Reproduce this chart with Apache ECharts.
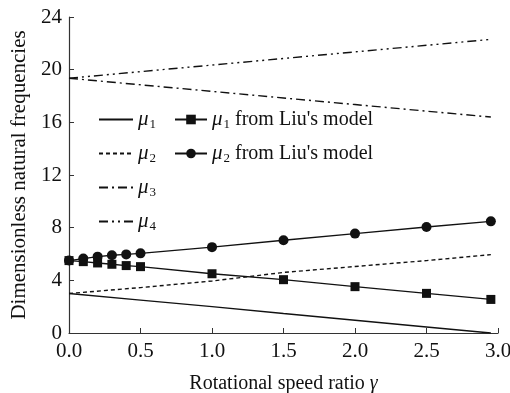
<!DOCTYPE html>
<html>
<head>
<meta charset="utf-8">
<script src="https://cdn.jsdelivr.net/npm/echarts@6/dist/echarts.min.js"></script>
<style>
  html, body { margin: 0; padding: 0; background: #fff; }
  #chart { width: 510px; height: 393px; }
</style>
</head>
<body>
<div id="chart"></div>
<script>
// theory curves
const gamma = [0, 0.5, 1.0, 1.5, 2.0, 2.5, 2.95];
const mu1 = [3.0, 2.5, 2.0, 1.48, 0.97, 0.46, 0];
const mu2 = [3.0, 3.45, 3.95, 4.6, 5.05, 5.5, 5.95];
const mu3 = [19.35, 18.85, 18.35, 17.85, 17.35, 16.85, 16.4];
const mu4 = [19.35, 19.85, 20.35, 20.85, 21.35, 21.85, 22.3];
// Liu's model points
const liuX = [0, 0.1, 0.2, 0.3, 0.4, 0.5, 1.0, 1.5, 2.0, 2.5, 2.95];
const liu1 = [5.5, 5.42, 5.32, 5.22, 5.12, 5.04, 4.5, 4.05, 3.52, 3.01, 2.55];
const liu2 = [5.5, 5.65, 5.8, 5.9, 5.97, 6.05, 6.52, 7.04, 7.55, 8.05, 8.48];

const pair = (xs, ys) => xs.map((x, i) => [x, ys[i]]);
const serif = "'Liberation Serif', 'Times New Roman', serif";
const ink = '#111';

const rich = {
  mu: { fontFamily: serif, fontStyle: 'italic', fontSize: 21, lineHeight: 22, color: ink },
  sub: { fontFamily: serif, fontSize: 13, lineHeight: 13, color: ink, padding: [10, 0, 0, 1] },
  t: { fontFamily: serif, fontSize: 20, lineHeight: 22, color: ink }
};
function legendLabel(name) {
  const n = name.charAt(1);
  if (name.length > 2) return '{mu|μ}{sub|' + n + '}{t| from Liu\'s model}';
  return '{mu|μ}{sub|' + n + '}';
}

const chart = echarts.init(document.getElementById('chart'));
const lineBase = { type: 'line', symbol: 'none', animation: false, color: ink };
chart.setOption({
  animation: false,
  grid: { left: 69, right: 12, top: 17, bottom: 60, outerBoundsMode: 'none', containLabel: false },
  legend: [
    {
      data: ['μ1', 'μ2', 'μ3', 'μ4'],
      orient: 'vertical', left: 98, top: 108, padding: 0,
      itemWidth: 34, itemHeight: 12, itemGap: 11,
      itemStyle: { opacity: 0 },
      formatter: legendLabel,
      textStyle: { rich: rich }
    },
    {
      data: ['μ1 from Liu\'s model', 'μ2 from Liu\'s model'],
      orient: 'vertical', left: 174, top: 108, padding: 0,
      itemWidth: 32, itemHeight: 12, itemGap: 11,
      formatter: legendLabel,
      textStyle: { rich: rich }
    }
  ],
  xAxis: {
    type: 'value', min: 0, max: 3, interval: 0.5,
    name: '{a|Rotational speed ratio }{g|γ}',
    nameLocation: 'middle', nameGap: 41,
    nameTextStyle: { fontFamily: serif, fontSize: 20, color: ink,
      rich: {
        a: { fontFamily: serif, fontSize: 20, color: ink },
        g: { fontFamily: serif, fontSize: 20, color: ink, fontStyle: 'italic' }
      } },
    axisLine: { lineStyle: { color: '#333', width: 1.2 } },
    axisTick: { inside: true, length: 5, lineStyle: { color: '#333' } },
    axisLabel: { fontFamily: serif, fontSize: 21, color: ink, margin: 8,
      formatter: v => v.toFixed(1) },
    splitLine: { show: false }
  },
  yAxis: {
    type: 'value', min: 0, max: 24, interval: 4,
    name: 'Dimensionless natural frequencies',
    nameLocation: 'middle', nameGap: 37,
    nameTextStyle: { fontFamily: serif, fontSize: 21, color: ink },
    axisLine: { show: true, lineStyle: { color: '#333', width: 1.2 } },
    axisTick: { show: true, inside: true, length: 5, lineStyle: { color: '#333' } },
    axisLabel: { fontFamily: serif, fontSize: 21, color: ink, margin: 7 },
    splitLine: { show: false }
  },
  series: [
    Object.assign({}, lineBase, { name: 'μ1', data: pair(gamma, mu1),
      lineStyle: { width: 1.4, type: 'solid' } }),
    Object.assign({}, lineBase, { name: 'μ2', data: pair(gamma, mu2),
      lineStyle: { width: 1.4, type: [4, 3] } }),
    Object.assign({}, lineBase, { name: 'μ3', data: pair(gamma, mu3),
      lineStyle: { width: 1.4, type: [9, 4, 2, 4] } }),
    Object.assign({}, lineBase, { name: 'μ4', data: pair(gamma, mu4),
      lineStyle: { width: 1.4, type: [9, 4, 2, 4, 2, 4] } }),
    Object.assign({}, lineBase, { name: 'μ1 from Liu\'s model', data: pair(liuX, liu1),
      symbol: 'rect', symbolSize: 9, showSymbol: true,
      itemStyle: { color: ink }, lineStyle: { width: 1.4 } }),
    Object.assign({}, lineBase, { name: 'μ2 from Liu\'s model', data: pair(liuX, liu2),
      symbol: 'circle', symbolSize: 10, showSymbol: true,
      itemStyle: { color: ink }, lineStyle: { width: 1.4 } })
  ]
});
</script>
</body>
</html>
